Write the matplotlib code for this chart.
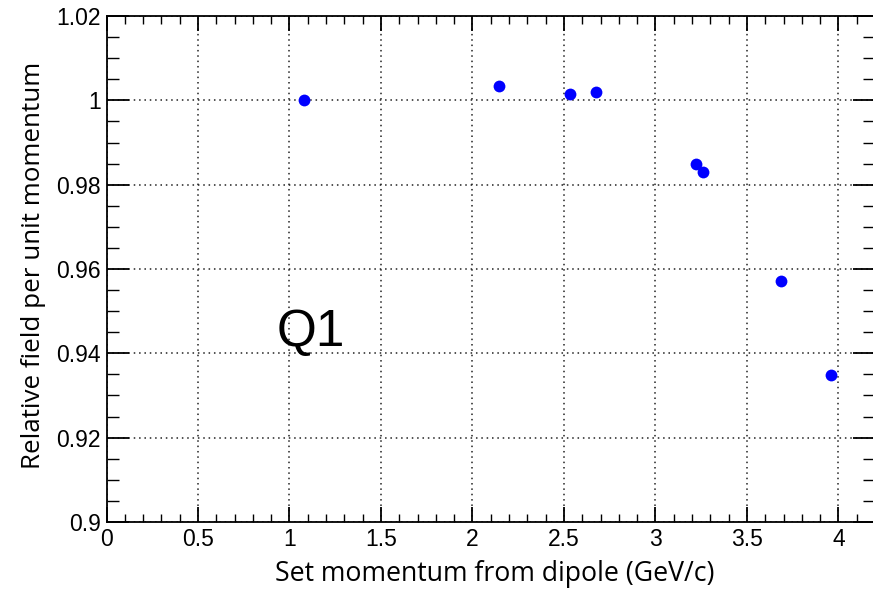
import matplotlib
matplotlib.use("Agg")
import matplotlib.pyplot as plt
from matplotlib.ticker import MultipleLocator, FixedLocator

momentum = [1.077, 2.144, 2.533, 2.673, 3.224, 3.259, 3.686, 3.962]
rel_field = [1.0000, 1.0035, 1.0015, 1.0020, 0.9849, 0.9830, 0.9572, 0.9349]
x_ticks = [0, 0.5, 1, 1.5, 2, 2.5, 3, 3.5, 4]
x_tick_labels = ["0", "0.5", "1", "1.5", "2", "2.5", "3", "3.5", "4"]
y_ticks = [0.90, 0.92, 0.94, 0.96, 0.98, 1.00, 1.02]
y_tick_labels = ["0.9", "0.92", "0.94", "0.96", "0.98", "1", "1.02"]

W, H = 873, 589
fig = plt.figure(figsize=(W / 100, H / 100), dpi=100)
L, R, T, B = 106.5, 875, 16, 522
ax = fig.add_axes([L / W, 1 - B / H, (R - L) / W, (B - T) / H])

ax.plot(momentum, rel_field, "o", color="#0000ff", markersize=8.5, markeredgewidth=0)
ax.set_xlim(0, 4.2)
ax.set_ylim(0.90, 1.02)

ax.xaxis.set_major_locator(FixedLocator(x_ticks))
ax.set_xticklabels(x_tick_labels)
ax.xaxis.set_minor_locator(MultipleLocator(0.1))
ax.yaxis.set_major_locator(FixedLocator(y_ticks))
ax.set_yticklabels(y_tick_labels)
ax.yaxis.set_minor_locator(MultipleLocator(0.005))

tickfont = "Liberation Sans"
for lab in ax.get_xticklabels() + ax.get_yticklabels():
    lab.set_fontfamily(tickfont)
    lab.set_fontsize(16.5)

ax.tick_params(axis="both", which="both", direction="in", top=True, right=True, color="black")
ax.tick_params(axis="x", which="major", length=11, width=1.3, pad=4)
ax.tick_params(axis="x", which="minor", length=5.5, width=1.0)
ax.tick_params(axis="y", which="major", length=16, width=1.3, pad=4)
ax.tick_params(axis="y", which="minor", length=8.5, width=1.0)
for s in ax.spines.values():
    s.set_linewidth(1.3)

ax.grid(True, which="major", color="#222222", linestyle=(0, (1, 2.5)), linewidth=1.1)
ax.set_axisbelow(True)

fig.text(277 / W, 1 - 346 / H, "Q1", fontsize=37, family="Liberation Sans",
         ha="left", va="baseline")

fig.text(495 / W, 1 - 581 / H, "Set momentum from dipole (GeV/c)", fontsize=19.2,
         family="Open Sans", ha="center", va="baseline")
fig.text(34 / W, 1 - 265 / H, "Relative field per unit momentum", fontsize=18.7,
         family="Open Sans", ha="center", va="center", rotation=90)

fig.savefig("out.png", dpi=100)
